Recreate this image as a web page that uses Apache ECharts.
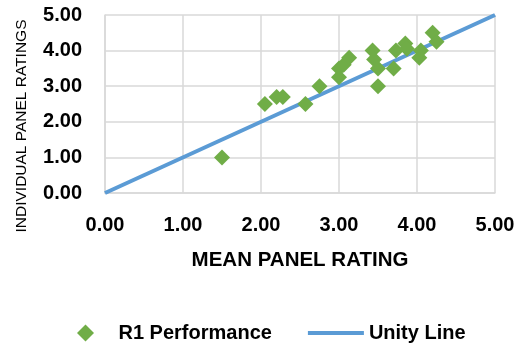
<!DOCTYPE html>
<html>
<head>
<meta charset="utf-8">
<script src="https://cdn.jsdelivr.net/npm/echarts@6/dist/echarts.min.js"></script>
<style>
  html, body { margin: 0; padding: 0; background: #fff; }
  #main { width: 520px; height: 350px; }
</style>
</head>
<body>
<div id="main"></div>
<script>
// mean panel rating (x) vs individual panel rating (y)
const meanRating = [1.5, 2.05, 2.2, 2.28, 2.57, 2.75, 3.0, 3.0, 3.06, 3.13,
  3.43, 3.45, 3.5, 3.5, 3.7, 3.73, 3.85, 3.87, 4.03, 4.05, 4.2, 4.25];
const indivRating = [1.0, 2.5, 2.7, 2.7, 2.5, 3.0, 3.25, 3.5, 3.6, 3.8,
  4.0, 3.75, 3.5, 3.0, 3.5, 4.0, 4.2, 4.05, 3.8, 4.0, 4.5, 4.25];
const unityX = [0, 5];
const unityY = [0, 5];

const green = '#70AD47';
const blue = '#5B9BD5';
const gridGray = '#d9d9d9';
const font = 'Liberation Sans';

const chart = echarts.init(document.getElementById('main'));

const option = {
  animation: false,
  textStyle: { fontFamily: font },
  grid: { left: 105, right: 25, top: 15, bottom: 157, outerBoundsMode: 'none' },
  legend: {
    top: 318,
    left: 72,
    itemGap: 36,
    itemWidth: 56,
    itemHeight: 17,
    symbolKeepAspect: true,
    textStyle: { fontSize: 20, fontWeight: 'bold', color: '#000', fontFamily: font },
    data: [
      { name: 'R1 Performance', icon: 'path://M0,-1 L1,0 L0,1 L-1,0 Z', itemStyle: { color: green } },
      { name: 'Unity Line', icon: 'path://M0,0 L56,0 L56,4 L0,4 Z', itemStyle: { color: blue } }
    ]
  },
  xAxis: {
    type: 'value',
    min: 0, max: 5, interval: 1,
    name: 'MEAN PANEL RATING',
    nameLocation: 'middle',
    nameGap: 57,
    nameTextStyle: { fontSize: 20.5, fontWeight: 'bold', color: '#000' },
    axisLine: { show: true, lineStyle: { color: gridGray, width: 1.5 } },
    axisTick: { show: false },
    axisLabel: {
      margin: 22, fontSize: 20, fontWeight: 'bold', color: '#000',
      formatter: v => v.toFixed(2)
    },
    splitLine: { lineStyle: { color: gridGray, width: 1.5 } }
  },
  yAxis: {
    type: 'value',
    min: 0, max: 5, interval: 1,
    name: 'INDIVIDUAL PANEL RATINGS',
    nameLocation: 'middle',
    nameGap: 75,
    nameTextStyle: {
      fontSize: 15.5, color: '#000',
      padding: [0, 44, 0, 0]
    },
    axisLine: { show: true, lineStyle: { color: gridGray, width: 1.5 } },
    axisTick: { show: false },
    axisLabel: {
      margin: 23, fontSize: 20, fontWeight: 'bold', color: '#000',
      formatter: v => v.toFixed(2)
    },
    splitLine: { lineStyle: { color: gridGray, width: 1.5 } }
  },
  series: [
    {
      name: 'Unity Line',
      type: 'line',
      data: unityX.map((x, i) => [x, unityY[i]]),
      showSymbol: false,
      symbol: 'none',
      lineStyle: { color: blue, width: 4 },
      itemStyle: { color: blue },
      z: 2
    },
    {
      name: 'R1 Performance',
      type: 'scatter',
      symbol: 'diamond',
      symbolSize: 16,
      data: meanRating.map((x, i) => [x, indivRating[i]]),
      itemStyle: { color: green, opacity: 1 },
      z: 3
    }
  ]
};

chart.setOption(option);
</script>
</body>
</html>
